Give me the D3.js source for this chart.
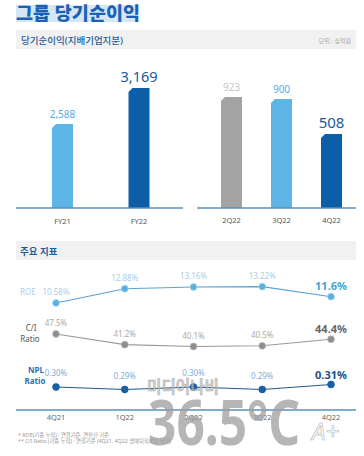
<!DOCTYPE html>
<html><head><meta charset="utf-8">
<script src="https://cdn.jsdelivr.net/npm/d3@7/dist/d3.min.js"></script>
<style>
html,body{margin:0;padding:0;background:#fff;}
svg{display:block;}
text{font-family:"Noto Sans","Noto Sans CJK KR",sans-serif;}
</style></head>
<body>
<script>
// ---- data ----
const annualCats = ["FY21", "FY22"];
const annualVals = [2588, 3169];
const quarterCats = ["2Q22", "3Q22", "4Q22"];
const quarterVals = [923, 900, 508];
const lineCats = ["4Q21", "1Q22", "2Q22", "3Q22", "4Q22"];
const roeVals = [10.58, 12.88, 13.16, 13.22, 11.6];
const roeLabels = ["10.58%", "12.88%", "13.16%", "13.22%", "11.6%"];
const ciVals = [47.5, 41.2, 40.1, 40.5, 44.4];
const ciLabels = ["47.5%", "41.2%", "40.1%", "40.5%", "44.4%"];
const nplVals = [0.30, 0.29, 0.30, 0.29, 0.31];
const nplLabels = ["0.30%", "0.29%", "0.30%", "0.29%", "0.31%"];

const W = 364, H = 456;
const svg = d3.select("body").append("svg").attr("width", W).attr("height", H);
svg.append("rect").attr("width", W).attr("height", H).attr("fill", "#fff");
const KR = '"Noto Sans CJK KR","Noto Sans",sans-serif';

// ---- title ----
svg.append("rect").attr("x", 16).attr("y", 5).attr("width", 121).attr("height", 17).attr("fill", "#d5e7f7");
svg.append("text").attr("x", 16).attr("y", 20).text("그룹 당기순이익")
  .attr("font-family", KR).attr("font-size", 18.5).attr("font-weight", 900).attr("fill", "#1b61b3");

// header band
svg.append("rect").attr("x", 16).attr("y", 30).attr("width", 340).attr("height", 19).attr("fill", "#f1f1f1");
svg.append("text").attr("x", 21).attr("y", 44).text("당기순이익(지배기업지분)")
  .attr("font-family", KR).attr("font-size", 9.5).attr("font-weight", 500).attr("fill", "#1f5c99");
svg.append("text").attr("x", 351).attr("y", 43).attr("text-anchor", "end").text("단위 : 십억원")
  .attr("font-family", KR).attr("font-size", 6).attr("fill", "#aaa");

// ---- bar charts ----
const base = 208, bw = 21, ch = 4;
function barPath(cx, top) {
  const x0 = cx - bw / 2, x1 = cx + bw / 2;
  return `M${x0},${base}L${x0},${top + ch}L${x0 + ch},${top}L${x1},${top}L${x1},${base}Z`;
}
const xA = d3.scalePoint().domain(annualCats).range([62.5, 139]);
const yA = d3.scaleLinear().domain([1230, 3169]).range([base, 88]);
const xQ = d3.scalePoint().domain(quarterCats).range([231.5, 331.5]);
const yQ = d3.scaleLinear().domain([508, 923]).range([134, 97]);

const annColors = ["#5db5e6", "#0d5ea9"];
const annLabelColors = ["#55ade0", "#1a5a9a"];
const annSizes = [10, 14.5];
const qColors = ["#a3a3a3", "#5db5e6", "#0d5ea9"];
const qLabelColors = ["#c4c4c4", "#55ade0", "#1a5a9a"];
const qSizes = [10, 10, 15];

const gA = svg.append("g");
annualCats.forEach((c, i) => {
  const cx = xA(c), top = yA(annualVals[i]);
  gA.append("path").attr("d", barPath(cx, top)).attr("fill", annColors[i]);
  gA.append("text").attr("x", cx).attr("y", top - 6).attr("text-anchor", "middle")
    .attr("font-size", annSizes[i]).attr("fill", annLabelColors[i]).text(d3.format(",")(annualVals[i]));
  gA.append("text").attr("x", cx).attr("y", 224).attr("text-anchor", "middle")
    .attr("font-size", 7.5).attr("fill", "#555").text(c);
});
const gQ = svg.append("g");
quarterCats.forEach((c, i) => {
  const cx = xQ(c), top = yQ(quarterVals[i]);
  gQ.append("path").attr("d", barPath(cx, top)).attr("fill", qColors[i]);
  gQ.append("text").attr("x", cx).attr("y", top - 6).attr("text-anchor", "middle")
    .attr("font-size", qSizes[i]).attr("fill", qLabelColors[i]).text(d3.format(",")(quarterVals[i]));
  gQ.append("text").attr("x", cx).attr("y", 223).attr("text-anchor", "middle")
    .attr("font-size", 7.5).attr("fill", "#555").text(c);
});
svg.append("line").attr("x1", 16).attr("x2", 183).attr("y1", base).attr("y2", base).attr("stroke", "#5d8fb8").attr("stroke-width", 1.5);
svg.append("line").attr("x1", 197).attr("x2", 356).attr("y1", base).attr("y2", base).attr("stroke", "#5d8fb8").attr("stroke-width", 1.5);

// ---- key indicators ----
svg.append("rect").attr("x", 16).attr("y", 241).attr("width", 340).attr("height", 19).attr("fill", "#f1f1f1");
svg.append("text").attr("x", 20).attr("y", 255).text("주요 지표")
  .attr("font-family", KR).attr("font-size", 9.5).attr("font-weight", 700).attr("fill", "#1f5c99");

const xL = d3.scalePoint().domain(lineCats).range([56, 331]);
const rows = [
  { vals: roeVals, labels: roeLabels, y: d3.scaleLinear().domain([10.58, 13.16]).range([303, 287]),
    line: "#5aa3cf", pt: "#58b0e0", ptStroke: "#a9d6f0", lab: "#a9cfe9", last: "#47a2d2", off: 8, lastOff: 7, lastSize: 11 },
  { vals: ciVals, labels: ciLabels, y: d3.scaleLinear().domain([40.1, 47.5]).range([346.5, 334]),
    line: "#9a9a9a", pt: "#8e8e8e", ptStroke: "#b5b5b5", lab: "#aaa", last: "#666", off: 8, lastOff: 6, lastSize: 11 },
  { vals: nplVals, labels: nplLabels, y: d3.scaleLinear().domain([0.29, 0.31]).range([389.5, 384.5]),
    line: "#1f5a8c", pt: "#1860a6", ptStroke: "#1860a6", lab: "#7fb0d6", last: "#1a4f86", off: 11, lastOff: 6, lastSize: 11 }
];
rows.forEach(r => {
  const line = d3.line().x((d, i) => xL(lineCats[i])).y(d => r.y(d));
  svg.append("path").attr("d", line(r.vals)).attr("fill", "none").attr("stroke", r.line).attr("stroke-width", 1.1);
  r.vals.forEach((v, i) => {
    const cx = xL(lineCats[i]), cy = r.y(v);
    svg.append("circle").attr("cx", cx).attr("cy", cy).attr("r", 3.4).attr("fill", r.pt)
      .attr("stroke", r.ptStroke).attr("stroke-width", 0.8);
    const last = i === r.vals.length - 1;
    svg.append("text").attr("x", cx).attr("y", cy - (last ? r.lastOff : r.off)).attr("text-anchor", "middle")
      .attr("font-size", last ? r.lastSize : 8).attr("font-weight", last ? 700 : 400)
      .attr("fill", last ? r.last : r.lab).text(r.labels[i]);
  });
});
// row titles
svg.append("text").attr("x", 20).attr("y", 295).attr("font-size", 8).attr("fill", "#a9cfe9").text("ROE");
svg.append("text").attr("x", 31).attr("y", 331).attr("text-anchor", "middle").attr("font-size", 8).attr("fill", "#555").text("C/I");
svg.append("text").attr("x", 30).attr("y", 342).attr("text-anchor", "middle").attr("font-size", 8).attr("fill", "#555").text("Ratio");
svg.append("text").attr("x", 36).attr("y", 373).attr("text-anchor", "middle").attr("font-size", 8).attr("font-weight", 700).attr("fill", "#2a6fb0").text("NPL");
svg.append("text").attr("x", 35).attr("y", 384).attr("text-anchor", "middle").attr("font-size", 8).attr("font-weight", 700).attr("fill", "#2a6fb0").text("Ratio");

// bottom axis
svg.append("line").attr("x1", 16).attr("x2", 356).attr("y1", 410).attr("y2", 410).attr("stroke", "#5d90b5").attr("stroke-width", 1.5);
lineCats.forEach(c => {
  svg.append("text").attr("x", xL(c)).attr("y", 420).attr("text-anchor", "middle")
    .attr("font-size", 7.5).attr("fill", "#666").text(c);
});

// footnotes
svg.append("text").attr("x", 18).attr("y", 437).attr("font-family", KR).attr("font-size", 5.3).attr("fill", "#999")
  .text("* ROE(기중 누적) : 연결기준, 연환산 기준");
svg.append("text").attr("x", 18).attr("y", 443).attr("font-family", KR).attr("font-size", 5.3).attr("fill", "#999")
  .text("** C/I Ratio (기중 누적) : 연결기준 (4Q21, 4Q22 명예퇴직비용 제외)");

// watermark
const wm = svg.append("g").attr("opacity", 0.75);
wm.append("text").attr("x", 147).attr("y", 393).attr("font-family", KR).attr("font-size", 17).attr("font-weight", 700)
  .attr("fill", "#bcbcbc").attr("stroke", "#9a9a9a").attr("stroke-width", 0.5).attr("textLength", 72).attr("lengthAdjust", "spacingAndGlyphs").text("미디어나비");
wm.append("text").attr("x", 148).attr("y", 445).attr("font-family", '"Liberation Sans",Arial,sans-serif').attr("font-size", 62).attr("font-weight", 700)
  .attr("fill", "#9e9e9e").attr("textLength", 152).attr("lengthAdjust", "spacingAndGlyphs").text("36.5°C");
wm.append("text").attr("x", 312).attr("y", 440).attr("font-family", '"DejaVu Serif",serif').attr("font-size", 24).attr("font-style", "italic")
  .attr("fill", "none").attr("stroke", "#999").attr("stroke-width", 0.6).text("A+");
</script>
</body></html>
